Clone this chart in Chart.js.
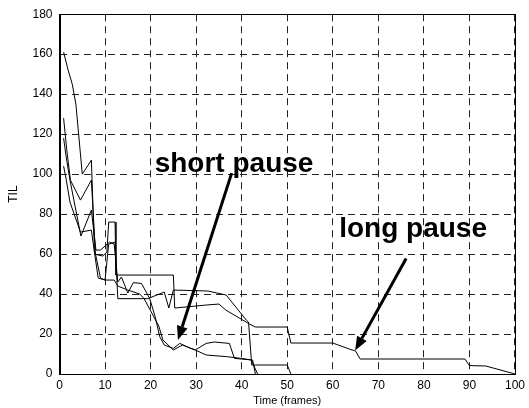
<!DOCTYPE html>
<html>
<head>
<meta charset="utf-8">
<script src="https://cdn.jsdelivr.net/npm/chart.js@4/dist/chart.umd.min.js"></script>
<style>
  body { margin: 0; background: #fff; }
</style>
</head>
<body>
<canvas id="chart" width="529" height="408"></canvas>
<script>
// TIL traces over time, four runs
const timeA = [0.9, 1.9, 2.8, 3.6, 5, 7, 7.7, 9.5, 10.4, 10.8, 12.2, 12.4, 25, 25.3, 32.2, 35, 36.5, 41.7, 43, 50, 50.8, 60, 63.6, 65, 66, 89, 90, 93.6, 100];
const tilA  = [161, 152, 145, 135, 100, 107, 60, 59, 61, 76, 76, 49.5, 49.5, 33, 34.5, 35, 32, 25, 23.5, 23.5, 15.5, 15.5, 12.5, 11.5, 7.5, 7.5, 4.2, 4, 0];

const timeB = [0.9, 1.6, 2.4, 4.6, 7, 7.9, 9, 10, 10.8, 12.2, 12.8, 19.4, 23, 24, 25, 32.6, 36.6, 41, 41.5, 42.2, 50, 50.8];
const tilB  = [128, 112, 97, 87, 97, 60, 48, 47, 65, 66, 37.7, 37.7, 41, 33, 42, 41.5, 39.5, 27, 26, 4.5, 4.5, 0];

const timeC = [0.9, 1.5, 2.3, 4.7, 7, 8, 9, 10, 11, 12, 12.8, 13.6, 15, 16.2, 18, 19.8, 21, 22, 23, 25, 26.4, 28.6, 29.8, 32.2, 34, 37.3, 38.4, 42.4, 43];
const tilC  = [118, 108, 97, 69, 82, 62, 62, 64, 66, 65, 46, 48.5, 40.5, 45.7, 45.3, 37.8, 28.7, 18.7, 14.5, 12.8, 15.3, 13, 12, 15.3, 16, 15.3, 7.8, 7, 0];

const timeD = [0.9, 1.5, 2.3, 4.6, 7, 7.6, 8.5, 10, 12, 12.8, 15, 17.6, 18.5, 21.8, 22.7, 25, 27, 29.8, 32.2, 36.6, 40, 42.1, 43.5];
const tilD  = [104, 97, 86, 71, 72, 62, 48, 47, 47, 44, 42, 40, 38, 24, 17, 12, 14.5, 12, 9.5, 8.7, 7.8, 7, 0];

// callouts: text anchor (left, baseline) and arrow from -> to, in data units
const noteLabels = ["short pause", "long pause"];
const noteText = [[20.9, 101], [61.4, 68.6]];
const noteFrom = [[37.8, 100.5], [76.1, 57.8]];
const noteTo   = [[26, 17], [64.9, 11.7]];

const FONT = 'Arial, "Liberation Sans", sans-serif';

function pts(ts, ys) {
  return ts.map((t, i) => ({ x: t, y: ys[i] }));
}

function trace(ts, ys) {
  return {
    data: pts(ts, ys),
    borderColor: "#000",
    borderWidth: 1,
    pointRadius: 0,
    tension: 0,
    fill: false
  };
}

const notes = {
  id: "notes",
  afterDatasetsDraw(chart) {
    const ctx = chart.ctx;
    const sx = chart.scales.x, sy = chart.scales.y;
    const a = chart.chartArea;
    ctx.save();
    // box around the axes
    ctx.strokeStyle = "#000";
    ctx.lineWidth = 1;
    ctx.setLineDash([]);
    ctx.strokeRect(Math.round(a.left) + 0.5, Math.round(a.top) + 0.5,
      Math.round(a.right - a.left), Math.round(a.bottom - a.top));

    ctx.fillStyle = "#000";
    ctx.font = "bold 28px " + FONT;
    ctx.textBaseline = "alphabetic";
    ctx.textAlign = "left";
    for (let i = 0; i < noteLabels.length; i++) {
      ctx.fillText(noteLabels[i], sx.getPixelForValue(noteText[i][0]), sy.getPixelForValue(noteText[i][1]));

      const x1 = sx.getPixelForValue(noteFrom[i][0]), y1 = sy.getPixelForValue(noteFrom[i][1]);
      const x2 = sx.getPixelForValue(noteTo[i][0]), y2 = sy.getPixelForValue(noteTo[i][1]);
      const ang = Math.atan2(y2 - y1, x2 - x1);
      const head = 14, half = 5.5;
      const bx = x2 - head * Math.cos(ang), by = y2 - head * Math.sin(ang);
      ctx.lineWidth = 3;
      ctx.beginPath();
      ctx.moveTo(x1, y1);
      ctx.lineTo(bx, by);
      ctx.stroke();
      ctx.beginPath();
      ctx.moveTo(x2, y2);
      ctx.lineTo(bx + half * Math.sin(ang), by - half * Math.cos(ang));
      ctx.lineTo(bx - half * Math.sin(ang), by + half * Math.cos(ang));
      ctx.closePath();
      ctx.fill();
    }
    ctx.restore();
  }
};

new Chart(document.getElementById("chart"), {
  type: "line",
  data: {
    datasets: [
      trace(timeA, tilA),
      trace(timeB, tilB),
      trace(timeC, tilC),
      trace(timeD, tilD)
    ]
  },
  options: {
    responsive: false,
    animation: false,
    devicePixelRatio: 1,
    layout: { padding: { top: 14, right: 13, left: 0, bottom: 0 } },
    plugins: { legend: { display: false }, tooltip: { enabled: false } },
    scales: {
      x: {
        type: "linear",
        min: 0, max: 100,
        afterFit: s => { s.height = 34; },
        ticks: { stepSize: 10, color: "#000", font: { family: FONT, size: 12 }, padding: 4, maxRotation: 0 },
        grid: { color: "#222", lineWidth: 1, drawTicks: false },
        border: { display: true, color: "#000", width: 1, dash: [7, 5] },
        title: { display: true, text: "Time (frames)", color: "#000", font: { family: FONT, size: 11 }, padding: { top: 0, bottom: 0 } }
      },
      y: {
        min: 0, max: 180,
        afterFit: s => { s.width = 59.5; },
        ticks: { stepSize: 20, color: "#000", font: { family: FONT, size: 12 }, padding: 7 },
        grid: { color: "#222", lineWidth: 1, drawTicks: false },
        border: { display: true, color: "#000", width: 1, dash: [7, 5] },
        title: { display: true, text: "TIL", color: "#000", font: { family: FONT, size: 12 }, padding: { top: 6, bottom: 0 } }
      }
    }
  },
  plugins: [notes]
});
</script>
</body>
</html>
